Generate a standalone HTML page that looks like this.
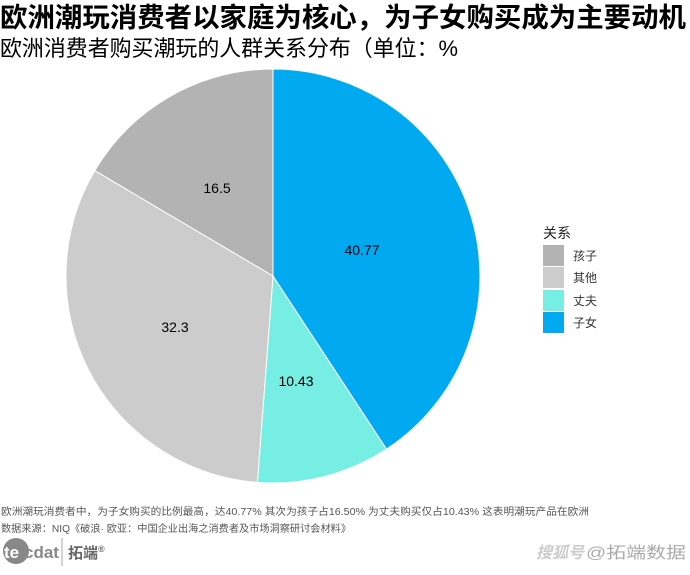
<!DOCTYPE html>
<html><head><meta charset="utf-8"><style>
body{margin:0;width:690px;height:575px;background:#fff;overflow:hidden;position:relative;font-family:"Liberation Sans","Noto Sans CJK SC",sans-serif}
</style></head><body>
<svg width="690" height="575" style="position:absolute;left:0;top:0" font-family="Liberation Sans, Noto Sans CJK SC, sans-serif">
<text x="0" y="27" font-size="27" font-weight="bold" textLength="686" lengthAdjust="spacingAndGlyphs">欧洲潮玩消费者以家庭为核心，为子女购买成为主要动机</text>
<text x="0" y="56" font-size="22" textLength="458" lengthAdjust="spacingAndGlyphs">欧洲消费者购买潮玩的人群关系分布（单位：%</text>
<g stroke="#fff" stroke-width="1">
<path d="M273,276 L273,69 A207,207 0 0,1 386.5,449.1 Z" fill="#00A9F0"/>
<path d="M273,276 L386.5,449.1 A207,207 0 0,1 257.4,482.4 Z" fill="#76EEE4"/>
<path d="M273,276 L257.4,482.4 A207,207 0 0,1 94.8,170.6 Z" fill="#CCCCCC"/>
<path d="M273,276 L94.8,170.6 A207,207 0 0,1 273,69 Z" fill="#B3B3B3"/>
</g>
<g font-size="14" text-anchor="middle" fill="#000">
<text x="362" y="255">40.77</text>
<text x="296" y="386">10.43</text>
<text x="175" y="332">32.3</text>
<text x="217" y="193">16.5</text>
</g>
<text x="543" y="238" font-size="14" fill="#222">关系</text>
<rect x="543" y="245" width="21" height="21" fill="#B3B3B3"/>
<rect x="543" y="267" width="21" height="21" fill="#CCCCCC"/>
<rect x="543" y="290" width="21" height="21" fill="#76EEE4"/>
<rect x="543" y="312" width="21" height="21" fill="#00A9F0"/>
<g font-size="12" fill="#333">
<text x="573" y="260">孩子</text>
<text x="573" y="282">其他</text>
<text x="573" y="305">丈夫</text>
<text x="573" y="327">子女</text>
</g>
<g font-size="10" fill="#555">
<text x="1" y="515" textLength="588" lengthAdjust="spacingAndGlyphs">欧洲潮玩消费者中，为子女购买的比例最高，达40.77%  其次为孩子占16.50%  为丈夫购买仅占10.43%  这表明潮玩产品在欧洲</text>
<text x="1" y="532" textLength="350" lengthAdjust="spacingAndGlyphs">数据来源：NIQ《破浪· 欧亚：中国企业出海之消费者及市场洞察研讨会材料》</text>
</g>
<circle cx="16" cy="551" r="13" fill="#888"/>
<text x="4" y="558" font-size="17" fill="#fff" font-weight="bold">te</text>
<text x="24" y="558" font-size="17" fill="#888" font-weight="bold">cdat</text>
<line x1="62" y1="538" x2="62" y2="566" stroke="#aaa"/>
<text x="68" y="558" font-size="15" fill="#666" font-weight="bold">拓端<tspan font-size="9" dy="-6">®</tspan></text>
<text x="536" y="558" font-size="16" fill="#ccc" font-style="italic" font-weight="bold">搜狐号</text>
<text x="586" y="558" font-size="16" fill="#aaa" textLength="100" lengthAdjust="spacingAndGlyphs">@拓端数据</text>
</svg>
</body></html>
